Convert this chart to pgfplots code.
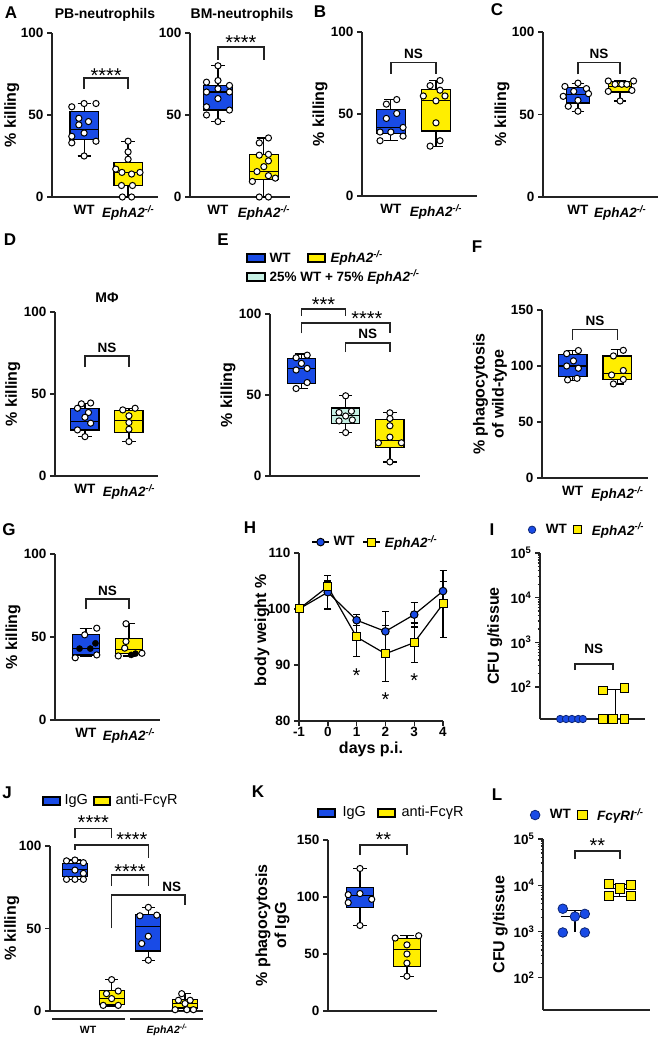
\documentclass[border=0pt]{standalone}
\usepackage{fontspec}
\setmainfont{Liberation Sans}
\usepackage{pgfplots}
\pgfplotsset{compat=1.18}
\usepgfplotslibrary{statistics}

\definecolor{cblue}{RGB}{25,75,230}
\definecolor{cyel}{RGB}{255,238,0}
\definecolor{cmint}{RGB}{198,240,228}
\definecolor{axc}{RGB}{35,35,35}

\newcommand{\fTick}{\fontsize{13.5}{13.5}\selectfont\bfseries}
\newcommand{\fLab}{\fontsize{16}{19}\selectfont\bfseries}
\newcommand{\fLet}{\fontsize{17}{17}\selectfont\bfseries}
\newcommand{\fStar}{\fontsize{20}{20}\selectfont}
\newcommand{\fLeg}{\fontsize{14.5}{14.5}\selectfont}
\newcommand{\ko}{\textit{EphA2}\textsuperscript{\textit{-/-}}}

\pgfplotsset{
  panel/.style={
    scale only axis, anchor=south west, clip=false,
    axis lines=left, axis line style={-, line width=1.6pt, color=axc},
    tick align=outside, major tick length=5pt, minor tick length=2.5pt,
    tick style={line width=1.4pt, color=axc},
    tick label style={font=\fTick}, label style={font=\fLab},
    /pgf/number format/assume math mode=true,
    boxplot/draw direction=y,
    boxplot/box extend=0.64, boxplot/whisker extend=0.3,
  },
  cat/.style={xtick={1,2}, xticklabels={WT,\ko}, xtick style={draw=none},
    ymin=0, ymax=100, ytick={0,50,100}, ylabel={\% killing}},
  ylab/.style={ylabel style={at={(axis description cs:#1,0.5)}, anchor=center}},
  pts/.style={only marks, mark=*, mark size=3.1pt,
    mark options={fill=white, draw=black, line width=1pt}},
  legs/.style={legend style={draw=none, fill=none, legend columns=-1,
    font=\fTick, at={#1}, anchor=center,
    /tikz/every odd column/.append style={column sep=8pt},
    /tikz/every even column/.append style={column sep=5pt}}},
}
\newcommand{\bxp}[7]{\addplot[draw=black, line width=1.2pt, fill=#1,
  boxplot prepared={draw position=#2, lower whisker=#3, lower quartile=#4,
  median=#5, upper quartile=#6, upper whisker=#7}] coordinates {};}
\newcommand{\brk}[4]{\draw[line width=1.5pt, color=axc] (axis cs:#1,#4) -- (axis cs:#1,#3) -- (axis cs:#2,#3) -- (axis cs:#2,#4);}
\newcommand{\sigt}[3]{\node[font=\fStar, yshift=-3pt] at (axis cs:#1,#2) {#3};}
\newcommand{\nst}[2]{\node[font=\fTick] at (axis cs:#1,#2) {NS};}

\begin{document}
\begin{tikzpicture}[x=1pt,y=1pt]
\useasboundingbox (0,0) rectangle (660,1039);

% ---------- A: PB-neutrophils
\begin{axis}[panel, cat, ylab=-0.38, at={(52pt,842pt)}, width=106pt, height=164pt,
  xmin=0.27, xmax=2.68]
\bxp{cblue}{1}{25}{35}{41}{52}{57}
\bxp{cyel}{2}{0}{7}{15}{21}{34}
\addplot[pts] coordinates {(0.72,55) (1.0,57) (1.27,57) (0.88,48) (0.88,44) (1.1,46) (0.72,37) (0.72,33) (1.27,34) (1.0,39) (1.0,25)};
\addplot[pts] coordinates {(2.0,34) (2.0,27.5) (2.0,23) (1.72,17) (1.86,15) (2.08,14) (2.27,15) (1.85,7) (2.1,7) (1.87,0) (2.08,0)};
\brk{1}{2}{72.5}{66}
\sigt{1.5}{76}{****}
\end{axis}

% ---------- A: BM-neutrophils
\begin{axis}[panel, cat, ylabel={}, at={(190pt,842pt)}, width=100pt, height=164pt,
  xmin=0.39, xmax=2.57]
\bxp{cblue}{1}{46}{53}{64}{68}{80}
\bxp{cyel}{2}{0}{10.5}{15.5}{26}{36}
\addplot[pts] coordinates {(1.0,80) (0.75,70) (1.0,71) (1.25,68) (0.75,64) (1.25,64) (1.0,60) (0.75,55) (1.25,53) (0.75,50) (1.0,46) (1.0,66)};
\addplot[pts] coordinates {(2.1,36) (1.9,33) (2.1,26) (1.9,25.5) (2.1,22) (2.0,18.5) (1.85,15.5) (2.1,13) (2.25,11.5) (1.75,9.5) (1.9,0) (2.1,0)};
\brk{1}{2}{91.5}{83.5}
\sigt{1.5}{96}{****}
\end{axis}

% ---------- B
\begin{axis}[panel, cat, ylab=-0.365, at={(362pt,843pt)}, width=115pt, height=164pt,
  xmin=0.36, xmax=2.91]
\bxp{cblue}{1}{33.7}{38}{42}{52.5}{58.8}
\bxp{cyel}{2}{30.4}{39.6}{58}{65}{70.4}
\addplot[pts] coordinates {(1.13,58.8) (0.9,56) (1.13,50.3) (0.9,47.3) (1.27,41.8) (0.76,39) (1.0,39) (1.27,36.5) (0.76,33.7)};
\addplot[pts] coordinates {(2.09,70.4) (1.87,67.3) (2.09,64.5) (1.72,61) (2.2,61) (2.0,58) (2.0,44.6) (2.09,33.7) (1.87,30.4)};
\brk{1}{2}{81.3}{74.6}
\nst{1.5}{86.4}
\end{axis}

% ---------- C
\begin{axis}[panel, cat, ylab=-0.357, at={(543pt,842pt)}, width=115pt, height=165pt,
  xmin=0.17, xmax=2.9, boxplot/box extend=0.55]
\bxp{cblue}{1}{52}{57}{62}{66.3}{69}
\bxp{cyel}{2}{58.2}{63.6}{67}{70}{70.7}
\addplot[pts] coordinates {(0.69,67) (1.0,69) (1.2,65.7) (0.65,61) (1.25,62.6) (1.0,58.6) (0.77,55) (1.0,52) (0.9,64)};
\addplot[pts] coordinates {(1.72,70.3) (2.32,70.3) (1.88,68.3) (2.04,68.3) (2.16,68.3) (1.72,64) (2.28,64.6) (2.0,58.2)};
\brk{1}{2}{81.4}{74.3}
\nst{1.5}{86.9}
\end{axis}

% ---------- D
\begin{axis}[panel, cat, ylab=-0.41, at={(55pt,563pt)}, width=103pt, height=164pt,
  xmin=0.32, xmax=2.66]
\bxp{cblue}{1}{24}{28}{33}{41.3}{44}
\bxp{cyel}{2}{21}{26.5}{34}{40}{41.3}
\addplot[pts] coordinates {(0.92,44) (1.13,44.5) (0.83,41.3) (1.08,38.7) (1.0,35.8) (1.13,32.2) (0.83,28.1) (1.0,24)};
\addplot[pts] coordinates {(1.86,40.3) (2.14,41.3) (2.0,36.7) (2.0,32.6) (2.0,28.5) (2.0,21)};
\brk{1}{2}{73.3}{66.4}
\nst{1.5}{78}
\end{axis}

% ---------- E
\begin{axis}[panel, cat, xtick=\empty, ylab=-0.28, at={(270pt,563pt)}, width=150pt, height=162pt,
  xmin=0.29, xmax=3.68]
\bxp{cblue}{1}{54}{57}{66.4}{72.6}{75.3}
\bxp{cmint}{2}{26.8}{32.4}{37.5}{42}{49.5}
\bxp{cyel}{3}{8.7}{17.5}{22}{35}{39}
\addplot[pts] coordinates {(0.88,73) (1.13,74.6) (0.88,65.4) (1.13,66.4) (1.0,69.5) (1.13,57.7) (0.88,54)};
\addplot[pts] coordinates {(2,49.5) (1.85,39.2) (2.13,40) (2.0,37) (1.85,34) (2.15,34.6) (2.0,26.8)};
\addplot[pts] coordinates {(3,39) (3,35.5) (3,31) (3,24) (2.74,20.5) (3.26,20.5) (3,8.7)};
\brk{1}{2}{103}{99}
\sigt{1.5}{107.4}{***}
\brk{1}{3}{94.4}{88}
\sigt{2.48}{98.8}{****}
\brk{2}{3}{82}{76.5}
\nst{2.5}{87.5}
\end{axis}

% ---------- F
\begin{axis}[panel, cat, ymax=150, ytick={0,50,100,150}, ylabel={\% phagocytosis\\of wild-type},
  ylabel style={align=center}, ylab=-0.49, at={(542pt,561pt)}, width=106pt, height=168pt,
  xmin=0.32, xmax=2.68]
\bxp{cblue}{1}{87}{90.6}{100}{110}{113.8}
\bxp{cyel}{2}{84}{88}{93}{109}{114.4}
\addplot[pts] coordinates {(0.87,111) (1.13,113.8) (1.02,104.6) (1.13,98) (0.87,100) (0.89,87.6) (1.1,89)};
\addplot[pts] coordinates {(2.13,114) (1.91,109) (2.13,96) (1.87,92) (2.13,88) (1.91,84)};
\brk{1}{2}{132.8}{123.3}
\nst{1.5}{140}
\end{axis}

% ---------- G
\begin{axis}[panel, cat, ylab=-0.4, at={(55pt,319pt)}, width=105pt, height=166pt,
  xmin=0.28, xmax=2.72]
\bxp{cblue}{1}{38.6}{39.2}{43.3}{51.3}{55}
\bxp{cyel}{2}{38.6}{40.2}{42.3}{49.3}{58}
\addplot[pts] coordinates {(1.25,55.3) (0.97,51.3) (0.75,37.5) (1.25,39.2)};
\addplot[pts, mark options={fill=black}] coordinates {(1.22,46.2) (0.85,43) (1.1,43)};
\addplot[pts] coordinates {(1.93,58) (1.93,47.3) (1.9,43.3) (1.75,38.6) (2.3,40.2)};
\addplot[pts, mark options={fill=black}] coordinates {(2.05,39.2) (2.15,40)};
\brk{1}{2}{73}{66.8}
\nst{1.5}{78}
\end{axis}

% ---------- H
\begin{axis}[panel, at={(299pt,318pt)}, width=144pt, height=168pt,
  xmin=-1, xmax=4, ymin=80, ymax=110, xtick={-1,0,1,2,3,4}, xticklabels={-1,0,1,2,3,4},
  ytick={80,90,100,110}, ylabel={body weight \%}, xlabel={days p.i.},
  xticklabel style={inner sep=1pt},
  ylabel style={at={(axis description cs:-0.257,0.54)}, anchor=center},
  xlabel style={at={(axis description cs:0.5,-0.17)}, anchor=center, inner sep=0pt},
  legs={(axis description cs:0.53,1.065)},
  legend style={/tikz/every odd column/.append style={column sep=2pt},
    /tikz/every even column/.append style={column sep=6pt}}]
\addplot[black, line width=1.2pt, mark=*, mark size=3.8pt,
  mark options={fill=cblue, draw=black, line width=1pt},
  error bars/.cd, y dir=both, y explicit, error bar style={line width=1.2pt, black},
  error mark options={rotate=90, mark size=3.5pt, line width=1.2pt, black}]
  coordinates {(-1,100) +- (0,0) (0,103) +- (0,3) (1,98) +- (0,1) (2,96) +- (0,3.5) (3,99) +- (0,2.2) (4,103.2) +- (0,1.7)};
\addlegendentry{WT}
\addplot[black, line width=1.2pt, mark=square*, mark size=4pt,
  mark options={fill=cyel, draw=black, line width=1pt},
  error bars/.cd, y dir=both, y explicit, error bar style={line width=1.2pt, black},
  error mark options={rotate=90, mark size=3.5pt, line width=1.2pt, black}]
  coordinates {(-1,100) +- (0,0) (0,104) +- (0,1) (1,95) +- (0,3.5) (2,92) +- (0,5) (3,94) +- (0,3.5) (4,100.9) +- (0,6)};
\addlegendentry{\ko}
\sigt{1}{88.6}{*}
\sigt{2}{84.3}{*}
\sigt{3}{87.7}{*}
\end{axis}

% ---------- I
\begin{axis}[panel, at={(540pt,320pt)}, width=105pt, height=166pt,
  xmin=0.24, xmax=2.74, ymode=log, ymin=19.2, ymax=100000, xtick=\empty,
  ytick={100,1000,10000,100000},
  yticklabels={10\textsuperscript{2},10\textsuperscript{3},10\textsuperscript{4},10\textsuperscript{5}},
  ylabel={CFU g/tissue}, ylab=-0.43,
  legs={(axis description cs:0.45,1.14)}]
\addplot[black, line width=1.2pt, forget plot] coordinates {(2.03,19.2) (2.03,88)};
\addplot[black, line width=1.2pt, forget plot] coordinates {(1.74,88) (2.26,88)};
\addplot[only marks, mark=*, mark size=3.7pt, mark options={fill=cblue, draw=cblue!50!black, line width=0.8pt}]
  coordinates {(0.72,19.2) (0.86,19.2) (1.0,19.2) (1.15,19.2) (1.26,19.2)};
\addlegendentry{WT}
\addplot[only marks, mark=square*, mark size=4.1pt, mark options={fill=cyel, draw=black, line width=1pt}]
  coordinates {(1.74,19.2) (1.74,85) (1.98,19.2) (2.26,19.2) (2.26,95)};
\addlegendentry{\ko}
\brk{1.07}{1.98}{330}{240}
\nst{1.52}{700}
\end{axis}

% ---------- J
\begin{axis}[panel, cat, xtick=\empty, ylab=-0.25, at={(50pt,28pt)}, width=153pt, height=165pt,
  xmin=0.32, xmax=4.49, boxplot/box extend=0.68, boxplot/whisker extend=0.35]
\bxp{cblue}{1}{79.8}{81.4}{85.8}{89.5}{91.5}
\bxp{cyel}{2}{3}{4}{7.5}{12.6}{19}
\bxp{cblue}{3}{30.8}{36.4}{51}{58.7}{62.8}
\bxp{cyel}{4}{0.4}{1.8}{4.5}{6.9}{10.5}
\addplot[pts] coordinates {(0.77,91) (1,91.5) (1.23,89.9) (1.0,85.4) (1.23,83.4) (0.77,79.8) (1.0,79.8) (1.23,79.8)};
\addplot[pts] coordinates {(2,19) (2.18,12.1) (1.86,10.5) (2,7.5) (1.77,3.4) (2.18,3.4)};
\addplot[pts] coordinates {(3,62.8) (3.23,58.1) (2.77,57.7) (3,45.3) (2.82,40.9) (3,30.8)};
\addplot[pts] coordinates {(3.91,10.5) (4.14,6.5) (3.82,6.5) (4,4.5) (3.73,0.8) (4.05,0.8) (4.23,0.8)};
\brk{1}{2}{110.7}{104.6}
\sigt{1.5}{115.8}{****}
\draw[line width=1.5pt, color=axc] (axis cs:1,97.6) -- (axis cs:1,100.6) -- (axis cs:3,100.6) -- (axis cs:3,92.5);
\sigt{2.55}{105.7}{****}
\brk{2}{3}{82.4}{75.7}
\sigt{2.5}{86.4}{****}
\draw[line width=1.5pt, color=axc] (axis cs:2,50) -- (axis cs:2,70.2) -- (axis cs:4,70.2) -- (axis cs:4,64.2);
\nst{3.64}{75.3}
\end{axis}

% ---------- K
\begin{axis}[panel, cat, xtick=\empty, ymax=150, ytick={0,50,100,150}, ylabel={\% phagocytosis\\of IgG},
  ylabel style={align=center}, ylab=-0.51, at={(328pt,28pt)}, width=109pt, height=171pt,
  xmin=0.32, xmax=2.64, boxplot/box extend=0.58, boxplot/whisker extend=0.28]
\bxp{cblue}{1}{75}{91}{101}{108}{125}
\bxp{cyel}{2}{30.5}{39}{54}{63.6}{66}
\addplot[pts] coordinates {(1.0,125) (0.75,102) (1.0,103) (1.25,98) (0.75,95) (1.0,75)};
\addplot[pts] coordinates {(1.75,64) (2.25,66) (2.0,58) (2.0,50) (2.0,42) (2.0,30.5)};
\brk{1}{2}{145.6}{136.8}
\sigt{1.5}{153}{**}
\end{axis}

% ---------- L
\begin{axis}[panel, at={(543pt,29pt)}, width=107pt, height=171pt,
  xmin=0.29, xmax=2.67, ymode=log, ymin=20, ymax=100000, xtick=\empty,
  ytick={100,1000,10000,100000},
  yticklabels={10\textsuperscript{2},10\textsuperscript{3},10\textsuperscript{4},10\textsuperscript{5}},
  ylabel={CFU g/tissue}, ylab=-0.4,
  legs={(axis description cs:0.42,1.14)}]
\addplot[black, line width=1.2pt, forget plot] coordinates {(1,970) (1,2800)};
\addplot[black, line width=1.2pt, forget plot] coordinates {(0.77,2800) (1.23,2800)};
\addplot[black, line width=1.2pt, forget plot] coordinates {(0.7,2100) (1.3,2100)};
\addplot[black, line width=1.2pt, forget plot] coordinates {(2,5800) (2,10300)};
\addplot[black, line width=1.2pt, forget plot] coordinates {(1.78,10300) (2.22,10300)};
\addplot[black, line width=1.2pt, forget plot] coordinates {(1.7,8500) (2.3,8500)};
\addplot[black, line width=1.2pt, forget plot] coordinates {(1.78,5800) (2.22,5800)};
\addplot[only marks, mark=*, mark size=4.8pt, mark options={fill=cblue, draw=cblue!50!black, line width=0.8pt}]
  coordinates {(0.73,3100) (1.0,2100) (1.22,2400) (0.73,950) (1.22,950)};
\addlegendentry{WT}
\addplot[only marks, mark=square*, mark size=4.6pt, mark options={fill=cyel, draw=black, line width=1pt}]
  coordinates {(1.75,10500) (2.0,8500) (2.25,10000) (1.75,5800) (2.25,5800)};
\addlegendentry{\textit{FcγRI}\textsuperscript{\textit{-/-}}}
\brk{1}{2}{55000}{37000}
\sigt{1.5}{83000}{**}
\end{axis}

% ---------- titles, legends and panel letters
\node[font=\fontsize{14}{14}\selectfont\bfseries] at (105,1024) {PB-neutrophils};
\node[font=\fontsize{14}{14}\selectfont\bfseries] at (242,1024) {BM-neutrophils};
\node[font=\fontsize{14}{14}\selectfont\bfseries] at (107,741) {MΦ};

\draw[fill=cblue, line width=1.2pt] (247,777) rectangle (265,785);
\node[anchor=west, font=\fTick] at (266,781) {WT};
\draw[fill=cyel, line width=1.2pt] (308,777) rectangle (325,785);
\node[anchor=west, font=\fTick] at (327,781) {\ko};
\draw[fill=cmint, line width=1.2pt] (247,758) rectangle (265,766);
\node[anchor=west, font=\fTick] at (266,762) {25\% WT + 75\% \ko};

\draw[fill=cblue, line width=1.2pt] (43,234) rectangle (60,242);
\node[anchor=west, font=\fLeg] at (61,238) {IgG};
\draw[fill=cyel, line width=1.2pt] (94,234) rectangle (110,242);
\node[anchor=west, font=\fLeg] at (112,238) {anti-FcγR};
\draw[fill=cblue, line width=1.2pt] (318,222) rectangle (335,230);
\node[anchor=west, font=\fLeg] at (339,226) {IgG};
\draw[fill=cyel, line width=1.2pt] (378,222) rectangle (395,230);
\node[anchor=west, font=\fLeg] at (398,226) {anti-FcγR};

\draw[line width=1.5pt, color=axc] (52,20) -- (125,20);
\draw[line width=1.5pt, color=axc] (130,20) -- (203,20);
\node[font=\fontsize{10.5}{10.5}\selectfont\bfseries] at (88,9) {WT};
\node[font=\fontsize{10.5}{10.5}\selectfont\bfseries] at (167,9) {\ko};

\node[font=\fLet] at (11,1026) {A};
\node[font=\fLet] at (320,1027) {B};
\node[font=\fLet] at (497,1029) {C};
\node[font=\fLet] at (10,799) {D};
\node[font=\fLet] at (223,799) {E};
\node[font=\fLet] at (477,792) {F};
\node[font=\fLet] at (9,509) {G};
\node[font=\fLet] at (250,511) {H};
\node[font=\fLet] at (492,509) {I};
\node[font=\fLet] at (7,246) {J};
\node[font=\fLet] at (258,247) {K};
\node[font=\fLet] at (497,244) {L};
\end{tikzpicture}
\end{document}
